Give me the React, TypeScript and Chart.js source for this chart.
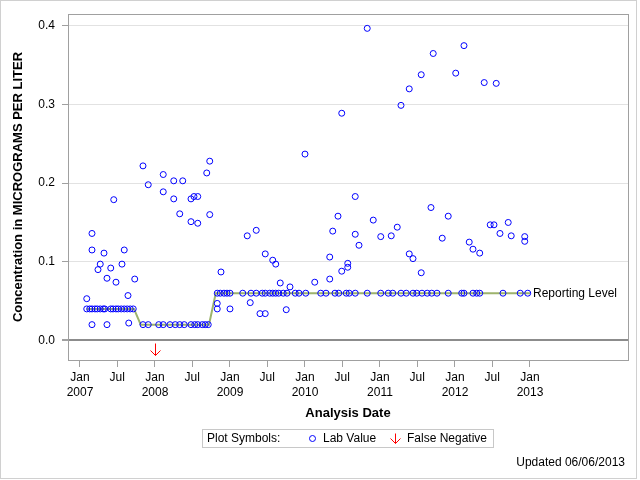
import React, { useEffect, useRef } from 'react';
import { Chart, registerables } from 'chart.js';

Chart.register(...registerables);

// ---- data (x = decimal year, y = micrograms per liter) ----
const tickYears = [2007, 2008, 2009, 2010, 2011, 2012, 2013];
const julyOffset = 181 / 365;
const yTickValues = [0, 0.1, 0.2, 0.3, 0.4];

const reportingLevelDates = [2007.09, 2007.72, 2007.81, 2008.72, 2008.81, 2013.0];
const reportingLevelValues = [0.04, 0.04, 0.02, 0.02, 0.06, 0.06];

const dates2007 = [2007.09, 2007.16, 2007.16, 2007.16, 2007.24, 2007.27, 2007.32, 2007.36, 2007.36, 2007.41, 2007.45, 2007.48, 2007.56, 2007.59, 2007.64, 2007.65, 2007.73,
  2007.09, 2007.13, 2007.16, 2007.2, 2007.23, 2007.27, 2007.31, 2007.33, 2007.41, 2007.44, 2007.48, 2007.51, 2007.55, 2007.59, 2007.63, 2007.67, 2007.71];
const values2007 = [0.053, 0.136, 0.115, 0.02, 0.09, 0.097, 0.111, 0.079, 0.02, 0.092, 0.179, 0.074, 0.097, 0.115, 0.057, 0.022, 0.078,
  0.04, 0.04, 0.04, 0.04, 0.04, 0.04, 0.04, 0.04, 0.04, 0.04, 0.04, 0.04, 0.04, 0.04, 0.04, 0.04, 0.04];

const dates2008 = [2007.84, 2007.91, 2008.11, 2008.11, 2008.25, 2008.25, 2008.33, 2008.37, 2008.48, 2008.52, 2008.57, 2008.48, 2008.57, 2008.69, 2008.73, 2008.73,
  2007.84, 2007.91, 2008.05, 2008.11, 2008.2, 2008.27, 2008.33, 2008.39, 2008.48, 2008.53, 2008.57, 2008.63, 2008.67, 2008.71];
const values2008 = [0.222, 0.198, 0.211, 0.189, 0.203, 0.18, 0.161, 0.203, 0.18, 0.183, 0.183, 0.151, 0.149, 0.213, 0.228, 0.16,
  0.02, 0.02, 0.02, 0.02, 0.02, 0.02, 0.02, 0.02, 0.02, 0.02, 0.02, 0.02, 0.02, 0.02];

const datesLater = [2008.83, 2008.83, 2008.88, 2009.0, 2009.23, 2009.27, 2009.35, 2009.4, 2009.47, 2009.47, 2009.57, 2009.61, 2009.67, 2009.75, 2009.8,
  2010.0, 2010.13, 2010.33, 2010.33, 2010.37, 2010.44, 2010.49, 2010.49, 2010.57, 2010.57, 2010.67, 2010.67, 2010.72, 2010.83, 2010.91,
  2011.01, 2011.15, 2011.23, 2011.28, 2011.39, 2011.39, 2011.44, 2011.55, 2011.55, 2011.68, 2011.71, 2011.83, 2011.91,
  2012.01, 2012.12, 2012.19, 2012.24, 2012.33, 2012.39, 2012.47, 2012.52, 2012.55, 2012.6, 2012.71, 2012.75, 2012.93, 2012.93];
const valuesLater = [0.047, 0.04, 0.087, 0.04, 0.133, 0.048, 0.14, 0.034, 0.034, 0.11, 0.102, 0.097, 0.073, 0.039, 0.068,
  0.237, 0.074, 0.078, 0.106, 0.139, 0.158, 0.289, 0.088, 0.098, 0.093, 0.183, 0.135, 0.121, 0.397, 0.153,
  0.132, 0.133, 0.144, 0.299, 0.32, 0.11, 0.104, 0.338, 0.086, 0.169, 0.365, 0.13, 0.158,
  0.34, 0.375, 0.125, 0.116, 0.111, 0.328, 0.147, 0.147, 0.327, 0.136, 0.15, 0.133, 0.132, 0.126];

const datesAtLevel = [2008.83, 2008.87, 2008.92, 2008.96, 2009.0, 2009.17, 2009.28, 2009.35, 2009.43, 2009.47, 2009.53, 2009.57, 2009.61, 2009.65, 2009.71, 2009.76, 2009.87, 2009.92, 2010.01, 2010.21,
  2010.28, 2010.4, 2010.45, 2010.55, 2010.59, 2010.67, 2010.83, 2011.01, 2011.11, 2011.17, 2011.28, 2011.35, 2011.44, 2011.49, 2011.56, 2011.63, 2011.69, 2011.76, 2011.91,
  2012.09, 2012.12, 2012.24, 2012.29, 2012.33, 2012.64, 2012.87, 2012.97];
const valuesAtLevel = [0.06, 0.06, 0.06, 0.06, 0.06, 0.06, 0.06, 0.06, 0.06, 0.06, 0.06, 0.06, 0.06, 0.06, 0.06, 0.06, 0.06, 0.06, 0.06, 0.06,
  0.06, 0.06, 0.06, 0.06, 0.06, 0.06, 0.06, 0.06, 0.06, 0.06, 0.06, 0.06, 0.06, 0.06, 0.06, 0.06, 0.06, 0.06, 0.06,
  0.06, 0.06, 0.06, 0.06, 0.06, 0.06, 0.06, 0.06];

const falseNegativeDates = [2008.0];
const falseNegativeValues = [-0.011];

const FONT = "'Liberation Sans', Arial, Helvetica, sans-serif";
const BLUE = '#0000ff';
const RED = '#ff0000';
const RL_COLOR = '#9db36c';

function pairs(xs: number[], ys: number[]) {
  return xs.map((x, i) => ({ x, y: ys[i] }));
}

function drawArrow(g: CanvasRenderingContext2D, cx: number, top: number, h: number, w: number) {
  g.save();
  g.strokeStyle = RED;
  g.fillStyle = RED;
  g.lineWidth = 1;
  g.beginPath();
  g.moveTo(cx, top);
  g.lineTo(cx, top + h);
  g.moveTo(cx - w / 2, top + h - w / 2);
  g.lineTo(cx, top + h);
  g.lineTo(cx + w / 2, top + h - w / 2);
  g.stroke();
  g.restore();
}

const decorPlugin = {
  id: 'decor',
  afterDatasetsDraw(chart: any) {
    // false-negative arrows at the dataset's element positions
    const g: CanvasRenderingContext2D = chart.ctx;
    const meta = chart.getDatasetMeta(2);
    meta.data.forEach((el: any) => {
      const cx = Math.round(el.x) + 0.5;
      const cy = Math.round(el.y);
      drawArrow(g, cx, cy - 6 + 0.5, 12, 10);
    });
  },
  afterDraw(chart: any) {
    const g: CanvasRenderingContext2D = chart.ctx;
    const a = chart.chartArea;
    const xs = chart.scales.x;
    const ys = chart.scales.y;
    g.save();
    // outer frame
    g.strokeStyle = '#d0d0d0';
    g.lineWidth = 1;
    g.strokeRect(0.5, 0.5, 636, 478);
    // plot frame
    g.strokeStyle = '#a0a0a0';
    g.strokeRect(Math.round(a.left) + 0.5, Math.round(a.top) + 0.5, Math.round(a.right - a.left), Math.round(a.bottom - a.top));

    // reporting level label
    const lastX = reportingLevelDates[reportingLevelDates.length - 1];
    const lastY = reportingLevelValues[reportingLevelValues.length - 1];
    g.fillStyle = '#000';
    g.font = `12px ${FONT}`;
    g.textAlign = 'left';
    g.textBaseline = 'middle';
    g.fillText('Reporting Level', xs.getPixelForValue(lastX) + 3, ys.getPixelForValue(lastY));

    // axis titles
    g.font = `bold 13px ${FONT}`;
    g.textAlign = 'center';
    g.fillText('Analysis Date', (a.left + a.right) / 2, 413);
    g.save();
    g.translate(18, 187);
    g.rotate(-Math.PI / 2);
    g.fillText('Concentration in MICROGRAMS PER LITER', 0, 0);
    g.restore();

    // legend
    g.strokeStyle = '#c8c8c8';
    g.strokeRect(202.5, 429.5, 291, 18);
    g.font = `12px ${FONT}`;
    g.textAlign = 'left';
    g.fillStyle = '#000';
    g.fillText('Plot Symbols:', 207, 439);
    g.strokeStyle = BLUE;
    g.beginPath();
    g.arc(312.5, 438.5, 3, 0, Math.PI * 2);
    g.stroke();
    g.fillText('Lab Value', 323, 439);
    drawArrow(g, 395.5, 433.5, 10, 10);
    g.fillText('False Negative', 407, 439);

    // updated note
    g.textAlign = 'right';
    g.fillText('Updated 06/06/2013', 625, 463);
    g.restore();
  },
};

export default function App() {
  const ref = useRef<HTMLCanvasElement>(null);
  useEffect(() => {
    if (!ref.current) return;
    Chart.defaults.font.family = FONT;
    const xTickValues: number[] = [];
    tickYears.forEach((y, i) => {
      xTickValues.push(y);
      if (i < tickYears.length - 1) xTickValues.push(y + julyOffset);
    });
    const chart = new Chart(ref.current, {
      type: 'scatter',
      data: {
        datasets: [
          {
            type: 'line',
            data: pairs(reportingLevelDates, reportingLevelValues),
            borderColor: RL_COLOR,
            borderWidth: 2,
            pointRadius: 0,
            fill: false,
            order: 3,
          } as any,
          {
            data: [
              ...pairs(dates2007, values2007),
              ...pairs(dates2008, values2008),
              ...pairs(datesLater, valuesLater),
              ...pairs(datesAtLevel, valuesAtLevel),
            ],
            pointStyle: 'circle',
            pointRadius: 3,
            borderWidth: 1,
            borderColor: BLUE,
            backgroundColor: 'rgba(0,0,0,0)',
            order: 1,
          },
          {
            data: pairs(falseNegativeDates, falseNegativeValues),
            pointRadius: 0,
            borderColor: RED,
            backgroundColor: RED,
            order: 2,
          },
        ],
      },
      options: {
        animation: false,
        responsive: false,
        devicePixelRatio: 1,
        layout: { padding: { left: 0, top: 11, right: 12, bottom: 0 } },
        plugins: { legend: { display: false }, tooltip: { enabled: false } },
        scales: {
          x: {
            type: 'linear',
            min: 2006.84,
            max: 2014.307,
            afterBuildTicks: (s: any) => {
              s.ticks = xTickValues.map((v) => ({ value: v }));
            },
            afterFit: (s: any) => {
              s.height = 120;
            },
            border: { display: false },
            grid: { drawOnChartArea: false, drawTicks: true, tickLength: 7, tickColor: '#a0a0a0' },
            ticks: {
              autoSkip: false,
              maxRotation: 0,
              padding: 3,
              color: '#000',
              font: { size: 12, lineHeight: 1.25 },
              callback: (v: any) => {
                const n = Number(v);
                return Math.abs(n - Math.round(n)) < 1e-6 ? ['Jan', String(Math.round(n))] : 'Jul';
              },
            },
          },
          y: {
            type: 'linear',
            min: -0.025,
            max: 0.415,
            afterBuildTicks: (s: any) => {
              s.ticks = yTickValues.map((v) => ({ value: v }));
            },
            afterFit: (s: any) => {
              s.width = 68;
            },
            border: { display: false },
            grid: {
              color: (c: any) => (c.tick && c.tick.value === 0 ? '#8c8c8c' : '#e2e2e2'),
              lineWidth: (c: any) => (c.tick && c.tick.value === 0 ? 2 : 1),
              tickColor: '#a0a0a0',
              tickLength: 6,
            },
            ticks: {
              padding: 7,
              color: '#000',
              font: { size: 12 },
              callback: (v: any) => Number(v).toFixed(1),
            },
          },
        },
      },
      plugins: [decorPlugin],
    });
    return () => chart.destroy();
  }, []);
  return (
    <canvas
      ref={ref}
      width={640}
      height={480}
      style={{ position: 'fixed', left: 0, top: 0, width: 640, height: 480, background: '#fff' }}
    />
  );
}
